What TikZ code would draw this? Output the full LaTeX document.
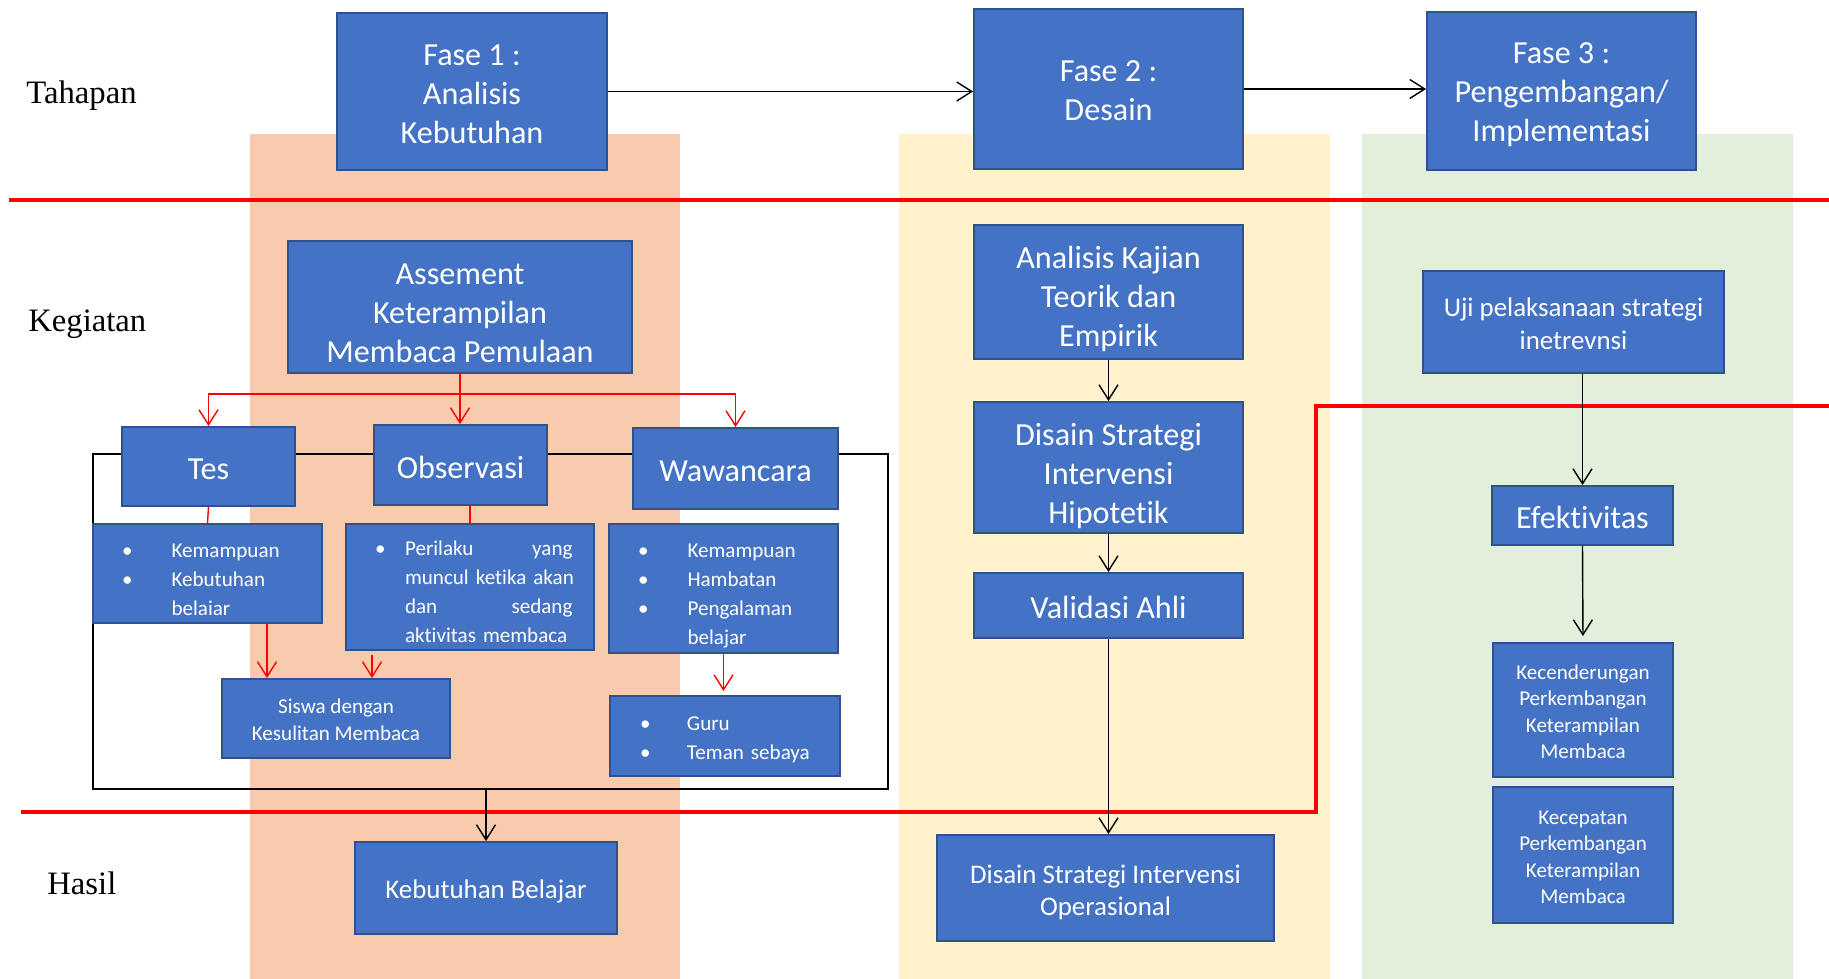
\documentclass[tikz,border=0pt]{standalone}
\usepackage{fontspec}
\setmainfont{Carlito}[Ligatures=NoCommon]
\newfontfamily\rowfont{Liberation Serif}
\usetikzlibrary{arrows.meta}

\definecolor{boxblue}{HTML}{4472C4}
\definecolor{boxedge}{HTML}{2F528F}
\definecolor{bandorange}{HTML}{F8CBAD}
\definecolor{bandyellow}{HTML}{FFF2CC}
\definecolor{bandgreen}{HTML}{E2EFDA}
\definecolor{linered}{HTML}{FF0000}

\newcommand{\bitem}[1][0.99cm]{\makebox[#1][l]{\textbullet}}
\newcommand{\bskip}[1][0.99cm]{\hspace*{#1}}
\newcommand{\tstrut}[1][1.06em]{\rule{0pt}{#1}}
\newcommand{\bstrut}{\rule[-0.25em]{0pt}{0.25em}}

\tikzset{
  box/.style={draw=boxedge, fill=boxblue, line width=1.1pt, text=white, align=center, inner sep=0pt},
  big/.style={font=\fontsize{18.3}{22.2}\selectfont},
  mid/.style={font=\fontsize{15.3}{18.5}\selectfont},
  small/.style={font=\fontsize{12}{15}\selectfont},
  listbox/.style={box, align=left, font=\fontsize{12}{16.5}\selectfont, inner xsep=0.58cm},
  rowlabel/.style={anchor=west, inner sep=0pt, font=\rowfont\fontsize{18.6}{22}\selectfont},
  arr/.style={-{Straight Barb[length=0.3cm,width=0.38cm]}, line width=0.8pt},
  redarr/.style={arr, draw=linered},
  redline/.style={draw=linered, line width=0.8pt},
  divider/.style={draw=linered, line width=2pt},
  group/.style={draw=black, line width=1.4pt, inner sep=0pt},
}

\begin{document}
\begin{tikzpicture}[x=0.02cm, y=-0.02cm]
	\useasboundingbox (0,0) rectangle (1829,979);
	\fill[bandorange] (250,134) rectangle (680,979);
	\fill[bandyellow] (899,134) rectangle (1330,979);
	\fill[bandgreen] (1362,134) rectangle (1793,979);

	\node[group, minimum width=15.9cm, minimum height=6.7cm] (grp) at (490.5,621.5) {};

	\draw[divider] (9,200) -- (1829,200);
	\draw[divider] (21,812) -- (1316,812) -- (1316,406) -- (1829,406);

	\node[rowlabel] (tahapan) at (26,95.5) {Tahapan};
	\node[rowlabel] (kegiatan) at (28,324.5) {Kegiatan};
	\node[rowlabel] (hasil) at (47,883) {Hasil};

	\node[box, big, minimum width=5.4cm, minimum height=3.14cm] (fase1) at (472,91.5) {\tstrut[1.05em]Fase 1 :\\ Analisis\\ Kebutuhan\bstrut};
	\node[box, big, minimum width=5.38cm, minimum height=3.2cm] (fase2) at (1108.5,89) {\tstrut[0.98em]Fase 2 :\\ Desain\bstrut};
	\node[box, big, minimum width=5.38cm, minimum height=3.16cm] (fase3) at (1561.5,91) {\tstrut[0.98em]Fase 3 :\\ Pengembangan/\\ Implementasi\bstrut};

	\node[box, big, minimum width=6.88cm, minimum height=2.64cm] (assement) at (460,307) {\tstrut[1.26em]Assement\\ Keterampilan\\ Membaca Pemulaan\bstrut};
	\node[box, big, minimum width=3.46cm, minimum height=1.58cm] (tes) at (208.5,466.5) {\tstrut Tes\bstrut};
	\node[box, big, minimum width=3.46cm, minimum height=1.6cm] (obs) at (460.5,465) {\tstrut Observasi\bstrut};
	\node[box, big, minimum width=4.1cm, minimum height=1.62cm] (waw) at (735.5,468.5) {\tstrut Wawancara\bstrut};

	\node[listbox, text width=3.42cm, minimum height=1.98cm] (tesb) at (207.5,573.5) {\tstrut[1.45em]\bitem Kemampuan\\ \bitem Kebutuhan\\ \bskip belaiar\bstrut};
	\node[listbox, inner xsep=0.42cm, text width=4.12cm, minimum height=2.52cm] (obsb) at (470,587) {\tstrut[1.37em]\bskip[0.16cm]\bitem[0.6cm]\makebox[3.35cm][s]{Perilaku\hfill yang}\\ \bskip[0.76cm]\makebox[3.35cm][s]{muncul ketika akan}\\ \bskip[0.76cm]\makebox[3.35cm][s]{dan\hfill sedang}\\ \bskip[0.76cm]aktivitas membaca\bstrut};
	\node[listbox, text width=3.42cm, minimum height=2.58cm] (wawb) at (723.5,588.5) {\tstrut[1.47em]\bitem Kemampuan\\ \bitem Hambatan\\ \bitem Pengalaman\\ \bskip belajar\bstrut};
	\node[box, small, minimum width=4.56cm, minimum height=1.58cm] (siswa) at (336,718.5) {\tstrut Siswa dengan\\ Kesulitan Membaca\bstrut};
	\node[listbox, inner xsep=0.6cm, text width=3.4cm, minimum height=1.6cm] (guru) at (725,736) {\tstrut[1.12em]\bitem[0.94cm]Guru\\ \bitem[0.94cm]Teman sebaya\bstrut};
	\node[box, mid, minimum width=5.24cm, minimum height=1.84cm] (kebel) at (486,888) {\tstrut Kebutuhan Belajar\bstrut};

	\node[box, big, minimum width=5.38cm, minimum height=2.68cm] (kajian) at (1108.5,292) {\tstrut[1.2em]Analisis Kajian\\ Teorik dan\\ Empirik\bstrut};
	\node[box, big, minimum width=5.38cm, minimum height=2.62cm] (hipo) at (1108.5,467.5) {\tstrut[1.3em]Disain Strategi\\ Intervensi\\ Hipotetik\bstrut};
	\node[box, big, minimum width=5.38cm, minimum height=1.3cm] (valid) at (1108.5,605.5) {\tstrut Validasi Ahli\bstrut};
	\node[box, mid, minimum width=6.74cm, minimum height=2.12cm] (oper) at (1105.5,888) {\tstrut[1.12em]Disain Strategi Intervensi\\ Operasional\bstrut};

	\node[box, mid, minimum width=6.02cm, minimum height=2.04cm] (uji) at (1573.5,322) {\tstrut Uji pelaksanaan strategi\\ inetrevnsi\bstrut};
	\node[box, big, minimum width=3.62cm, minimum height=1.18cm] (efek) at (1582.5,515.5) {\tstrut Efektivitas\bstrut};
	\node[box, small, minimum width=3.6cm, minimum height=2.68cm] (kecen) at (1583,710) {\tstrut[1.09em]Kecenderungan\\ Perkembangan\\ Keterampilan\\ Membaca\bstrut};
	\node[box, small, minimum width=3.6cm, minimum height=2.72cm] (kecep) at (1583,855) {\tstrut[1.09em]Kecepatan\\ Perkembangan\\ Keterampilan\\ Membaca\bstrut};

	\coordinate (split) at (460,394);
	\coordinate (tesdrop) at (267,0);
	\coordinate (obsdrop) at (372,0);

	\draw[arr] (fase1.east) -- (fase1.east -| fase2.west);
	\draw[arr] (fase2.east) -- (fase2.east -| fase3.west);

	\draw[redline] (assement.south) -- (split);
	\draw[redarr] (split) -| (tes.north);
	\draw[redarr] (split) -| (waw.north);
	\draw[redarr] (split) -- (split |- obs.north);
	\draw[redline] (tes.south) -- (tesb.north);
	\draw[redline] (obsb.north |- obs.south) -- (obsb.north);
	\draw[redarr] (tesdrop |- tesb.south) -- (tesdrop |- siswa.north);
	\draw[redarr, shorten <=0.08cm] (obsdrop |- obsb.south) -- (obsdrop |- siswa.north);
	\draw[redarr, shorten >=0.08cm] (wawb.south) -- (wawb.south |- guru.north);
	\draw[arr] (grp.south -| kebel.north) -- (kebel.north);

	\draw[arr] (kajian.south) -- (hipo.north);
	\draw[arr] (hipo.south) -- (valid.north);
	\draw[arr] (valid.south) -- (valid.south |- oper.north);

	\draw[arr] (efek.north |- uji.south) -- (efek.north);
	\draw[arr, shorten >=0.12cm] (efek.south) -- (kecen.north);
\end{tikzpicture}
\end{document}
